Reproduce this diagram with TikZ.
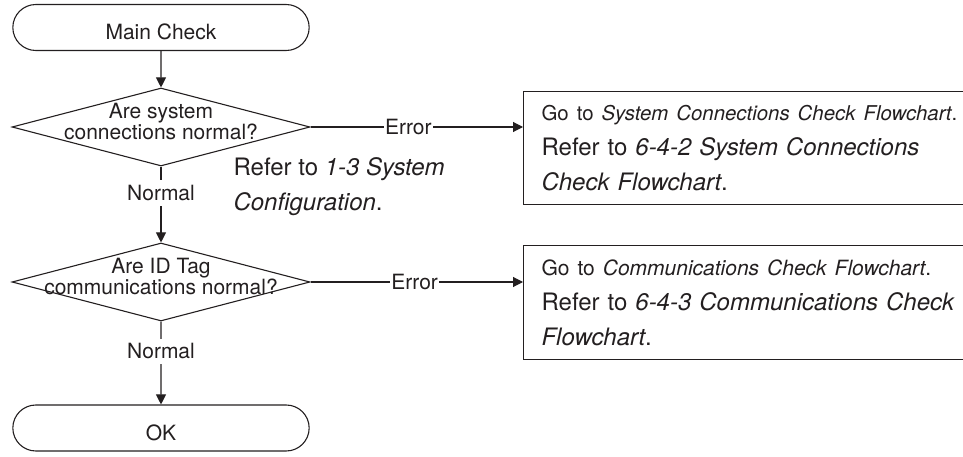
\documentclass[tikz,border=0pt]{standalone}
\usepackage{fontspec}
\setmainfont{TeX Gyre Heros}
\usetikzlibrary{arrows.meta,shapes.geometric,shapes.misc}
\definecolor{ink}{HTML}{231F20}

\begin{document}
\begin{tikzpicture}[x=1pt,y=-1pt,>={Triangle[length=10pt,width=10pt]},
  line width=1.1pt,draw=ink,text=ink,
  every node/.style={font=\fontsize{21}{21}\selectfont},
  term/.style={rounded rectangle,draw,minimum width=303pt,minimum height=46pt,text height=24pt,text depth=0pt},
  decision/.style={diamond,draw,minimum width=298pt,minimum height=78pt,inner sep=0pt},
  infobox/.style={draw,anchor=north west,align=left,text width=441pt,inner xsep=18pt,font=\fontsize{24}{35}\selectfont},
  tag/.style={fill=white,inner xsep=1pt,inner ysep=5pt}]
  \clip (0,0) rectangle (963,457);
  \node[term] (main) at (161,27.5) {Main Check};
  \node[decision,label={[align=center,yshift=5pt]center:Are system\\connections normal?}] (chk1) at (161,127) {};
  \node[decision,label={[align=center,yshift=5pt]center:Are ID Tag\\communications normal?}] (chk2) at (161,282) {};
  \node[term] (ok) at (161,428) {OK};
  \node[infobox,minimum height=113pt] (sysbox) at (523,91) {{\fontsize{20.4}{35}\selectfont Go to \textit{System Connections Check Flowchart}.}\\Refer to \textit{6-4-2 System Connections}\\\textit{Check Flowchart}.};
  \node[infobox,minimum height=114pt] (combox) at (523,245) {{\fontsize{21}{35}\selectfont Go to \textit{Communications Check Flowchart}.}\\Refer to \textit{6-4-3 Communications Check}\\\textit{Flowchart}.};
  \node[anchor=west,align=left,inner sep=0pt,font=\fontsize{24}{35}\selectfont] (cfgnote) at (233,187) {Refer to \textit{1-3 System}\\\textit{Configuration}.};
  \draw[->] (main) -- (chk1);
  \draw[->] (chk1) -- (chk2) node[tag,pos=0.35] {Normal};
  \draw[->] (chk2) -- (ok) node[tag,pos=0.36] {Normal};
  \draw[->] (chk1.east) -- (chk1.east -| sysbox.west) node[tag,pos=0.46] {Error};
  \draw[->] (chk2.east) -- (chk2.east -| combox.west) node[tag,pos=0.49] {Error};
\end{tikzpicture}
\end{document}
